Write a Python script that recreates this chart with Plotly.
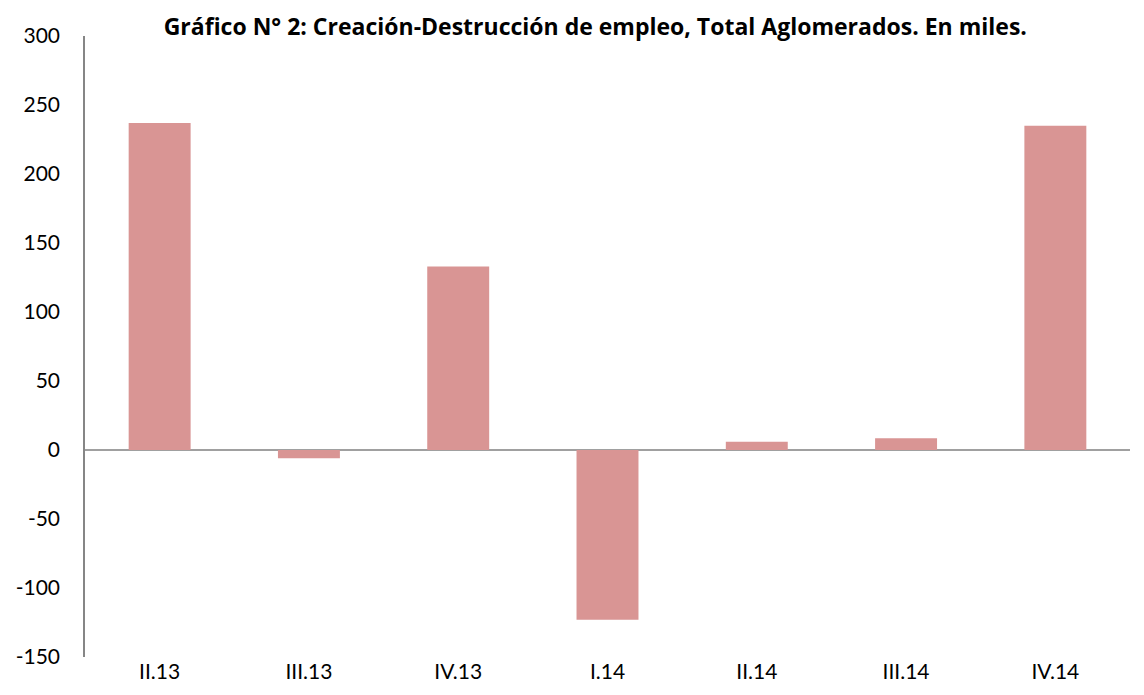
import plotly.graph_objects as go

categories = ["II.13", "III.13", "IV.13", "I.14", "II.14", "III.14", "IV.14"]
values = [237, -6, 133, -123, 6, 8.5, 235]
y_ticks = [-150, -100, -50, 0, 50, 100, 150, 200, 250, 300]
y_tick_text = [str(v) for v in y_ticks]

fig = go.Figure()
fig.add_trace(go.Bar(
    x=categories, y=values,
    marker=dict(color="#D99594", line=dict(width=0)),
    width=0.415,
))

fig.update_layout(
    width=1136, height=687,
    margin=dict(l=77, r=14, t=28, b=38, autoexpand=False),
    paper_bgcolor="white", plot_bgcolor="white",
    font=dict(family="Lato, Open Sans, sans-serif", size=21, color="#000000"),
    showlegend=False,
    title=dict(
        text="<b>Gráfico N° 2: Creación-Destrucción de empleo, Total Aglomerados. En miles.</b>",
        x=0.517, xanchor="center", y=0.972, yanchor="middle",
        font=dict(family="Open Sans, Lato, sans-serif", size=23, color="#000000"),
    ),
)
fig.update_yaxes(
    range=[-150, 300], tickvals=y_ticks, ticktext=y_tick_text, showgrid=False,
    showline=True, linecolor="#868686", linewidth=1.5,
    zeroline=True, zerolinecolor="#A0A0A0", zerolinewidth=2,
    ticks="", ticklabelstandoff=19, automargin=False,
)
fig.update_xaxes(
    showgrid=False, showline=False, zeroline=False, ticks="",
    ticklabelstandoff=0, automargin=False,
)

fig.write_html("out.html")
